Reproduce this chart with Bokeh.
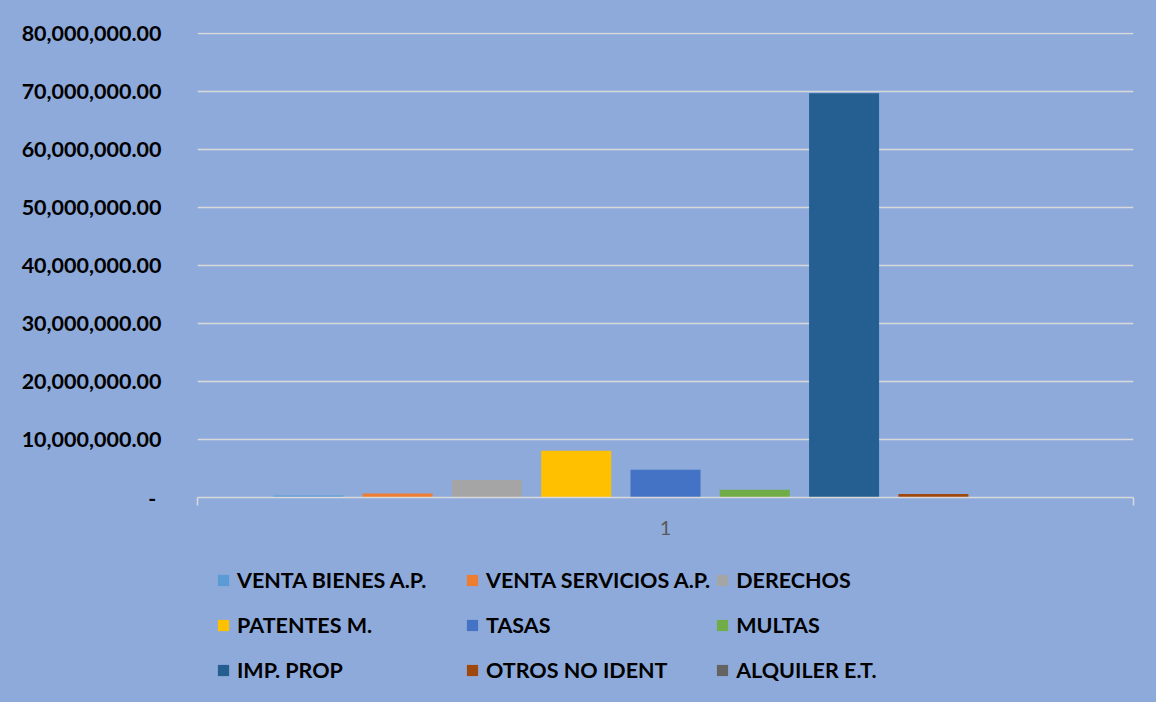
from bokeh.plotting import figure
from bokeh.layouts import column
from bokeh.models import Range1d, FixedTicker, Legend, LegendItem, ColumnDataSource, NumeralTickFormatter
from bokeh.embed import file_html
from bokeh.resources import INLINE

categories = ["1"]
series = ["VENTA BIENES A.P.", "VENTA SERVICIOS A.P.", "DERECHOS",
          "PATENTES M.", "TASAS", "MULTAS",
          "IMP. PROP", "OTROS NO IDENT", "ALQUILER E.T."]
values = [350000, 700000, 3000000, 8050000, 4780000, 1330000, 69700000, 620000, 20000]
colors = ["#5B9BD5", "#ED7D31", "#A5A5A5", "#FFC000", "#4472C4", "#70AD47",
          "#255E91", "#9E480E", "#636363"]
y_ticks = [0, 10000000, 20000000, 30000000, 40000000, 50000000, 60000000, 70000000, 80000000]

BG = "#8EAADB"
GRID = "#D9D9D9"
FONT = "Lato"

W = 1156
H_MAIN, H_LEG = 545, 157
p = figure(width=W, height=H_MAIN, output_backend="svg", toolbar_location=None,
           x_range=Range1d(0, 1), y_range=Range1d(0, 80170000),
           min_border_left=197, min_border_right=23, min_border_top=32, min_border_bottom=48)
p.background_fill_color = BG
p.border_fill_color = BG
p.outline_line_color = None
p.styles = {"background-color": BG}

step = 0.0954
bw = 0.0748
for i, (name, v, c) in enumerate(zip(series, values, colors)):
    src = ColumnDataSource(dict(x=[0.5 + (i - 4) * step], top=[v]))
    p.vbar(x="x", top="top", bottom=0, width=bw, source=src, fill_color=c, line_color=None)

# y axis
p.yaxis.ticker = FixedTicker(ticks=y_ticks)
p.yaxis.formatter = NumeralTickFormatter(format="0,0.00")
p.yaxis.major_label_overrides = {0: "-\u00a0"}
p.yaxis.axis_line_color = None
p.yaxis.major_tick_line_color = None
p.yaxis.minor_tick_line_color = None
p.yaxis.major_label_standoff = 30
p.yaxis.major_label_text_font = FONT
p.yaxis.major_label_text_font_style = "bold"
p.yaxis.major_label_text_font_size = "21.5px"
p.yaxis.major_label_text_color = "#000000"

# x axis
p.xaxis.ticker = FixedTicker(ticks=[0.5], minor_ticks=[0, 1])
p.xaxis.major_label_overrides = {0.5: categories[0]}
p.xaxis.axis_line_color = GRID
p.xaxis.axis_line_width = 1.5
p.xaxis.major_tick_line_color = None
p.xaxis.minor_tick_line_color = GRID
p.xaxis.minor_tick_line_width = 1.5
p.xaxis.minor_tick_in = 0
p.xaxis.minor_tick_out = 8
p.xaxis.major_label_standoff = 15
p.xaxis.major_label_text_font = FONT
p.xaxis.major_label_text_font_size = "20px"
p.xaxis.major_label_text_color = "#595959"

p.xgrid.grid_line_color = None
p.ygrid.ticker = FixedTicker(ticks=y_ticks[1:])
p.ygrid.grid_line_color = GRID
p.ygrid.grid_line_width = 1.5

# legend figure (same frame alignment as the main plot)
lg = figure(width=W, height=H_LEG, output_backend="svg", toolbar_location=None,
            x_range=Range1d(0, 1), y_range=Range1d(0, 1),
            min_border_left=197, min_border_right=23, min_border_top=0, min_border_bottom=0)
lg.axis.visible = False
lg.grid.visible = False
lg.background_fill_color = BG
lg.border_fill_color = BG
lg.outline_line_color = None
lg.styles = {"background-color": BG}
items = []
for name, c in zip(series, colors):
    r = lg.vbar(x=[5], top=[0], width=0.1, fill_color=c, line_color=None)
    items.append(LegendItem(label=name, renderers=[r]))

legend = Legend(items=items, location=(19, 12), ncols=3, orientation="horizontal",
                background_fill_alpha=0, border_line_color=None,
                padding=0, margin=0, spacing=5,
                glyph_width=14, glyph_height=14, label_standoff=7,
                label_width=223, label_height=40,
                label_text_font=FONT, label_text_font_style="bold",
                label_text_font_size="21.5px", label_text_color="#000000")
lg.add_layout(legend, "center")

layout = column(p, lg, spacing=0)
layout.styles = {"background-color": BG}
open("out.html", "w").write(file_html(layout, INLINE))
